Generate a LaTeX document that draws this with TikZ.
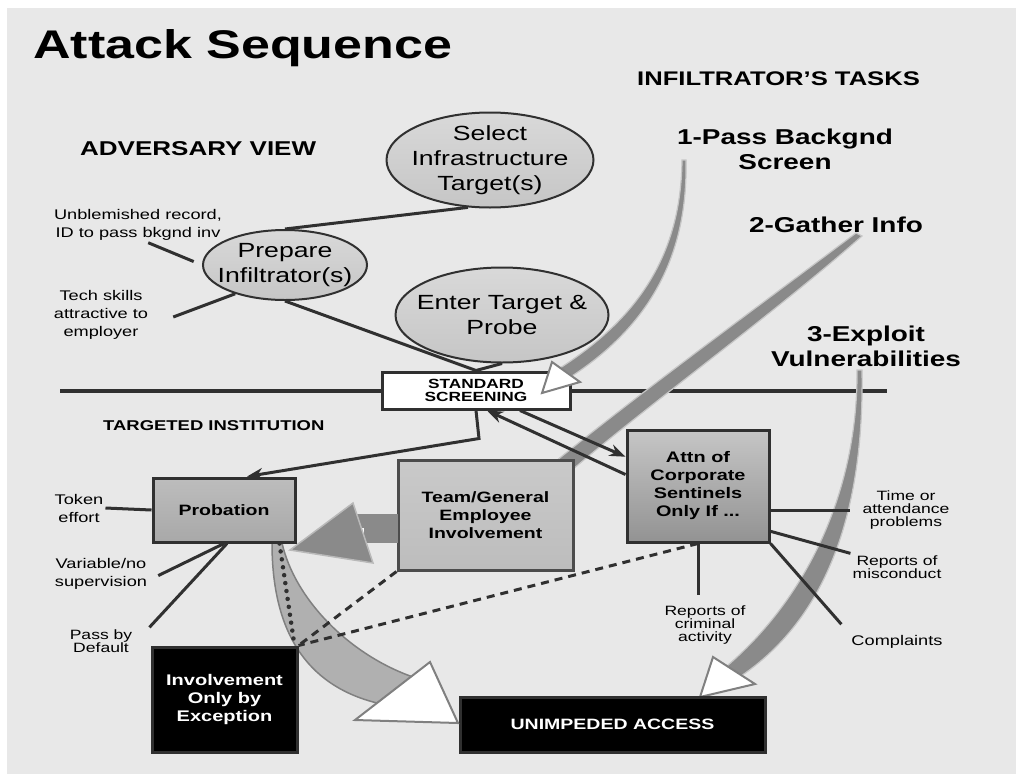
\documentclass[tikz,border=0pt]{standalone}
\usepackage{fontspec}
\setmainfont{Liberation Sans}[FakeStretch=1.3]
\usepackage{tikz}
\usetikzlibrary{positioning,shapes.geometric,arrows.meta}
\definecolor{bgc}{HTML}{E8E8E8}
\definecolor{ink}{HTML}{303030}
\definecolor{bandc}{HTML}{8A8A8A}
\definecolor{edgec}{HTML}{808080}
\tikzset{
	goal/.style={ellipse, draw=ink, line width=2pt, top color=gray!30, bottom color=gray!45, inner sep=0pt},
	goal text/.style={align=center, font=\fontsize{20.5}{25}\selectfont},
	note/.style={align=center, inner sep=2pt, font=\fontsize{14}{18}\selectfont},
	tight note/.style={note, font=\fontsize{13.5}{13}\selectfont},
	task/.style={align=center, inner sep=0pt, font=\bfseries\fontsize{21.5}{25}\selectfont},
	heading/.style={anchor=base west, inner sep=0pt, font=\bfseries\fontsize{20}{24}\selectfont},
	stage/.style={draw=ink, line width=3pt, align=center, inner sep=0pt, font=\bfseries\fontsize{15}{18}\selectfont},
	blackbox/.style={stage, fill=black, text=white},
	link/.style={draw=ink, line width=3pt},
	soft link/.style={link, dash pattern=on 8pt off 6pt},
	dot link/.style={draw=ink, line width=4.5pt, line cap=round, dash pattern=on 0pt off 8pt},
	sharp/.style={-{Stealth[length=16pt,width=12pt]}},
	band/.style={fill=bandc, draw=gray!45, line width=1.2pt},
	arrowhead/.style={fill=white, draw=edgec, line width=2pt, line join=miter},
}
\begin{document}
\begin{tikzpicture}[x=1pt,y=-1pt]
	\useasboundingbox (0,0) rectangle (1016,774);
	\fill[bgc] (7,8) rectangle (1016,774);
	\coordinate (divl) at (60,391);
	\coordinate (divr) at (887,391);
	\draw[ink, line width=4pt] (divl) -- (divr);
	\node[stage, fill=white, minimum width=188pt, minimum height=37pt, font=\bfseries\fontsize{13.3}{13}\selectfont] (screen) at (476,390.5) {STANDARD\\SCREENING};

	\filldraw[band] (682,160) .. controls (681,255) and (638,318) .. (560,368) -- (572,376) .. controls (648,326) and (688,258) .. (686,160) -- cycle;
	\filldraw[arrowhead] (552,362) -- (542,393) -- (580,382) -- cycle;
	\filldraw[band] (856,233) .. controls (760,305) and (630,400) .. (545,470) -- (572,470) .. controls (648,405) and (776,312) .. (862,236) -- cycle;
	\filldraw[band] (857,370) .. controls (858,480) and (815,590) .. (727,666) -- (741,676) .. controls (838,610) and (864,490) .. (862,370) -- cycle;
	\filldraw[arrowhead] (713,657) -- (700,697) -- (755,684) -- cycle;
	\filldraw[fill=gray!62, draw=edgec, line width=1.5pt] (272,543) .. controls (272,630) and (305,685) .. (377,703) -- (413,677) .. controls (350,655) and (295,600) .. (282,543) -- cycle;

	\node[stage, draw=gray!60!black, minimum width=175pt, minimum height=110pt, top color=gray!42, bottom color=gray!52] (team) at (485.5,515) {Team/General\\Employee\\Involvement};
	\fill[bandc] (350,514) rectangle (398,543);
	\fill[white] (352,528) rectangle (364,543);
	\filldraw[fill=bandc, draw=gray!55, line width=1.5pt] (353,503) -- (290,550) -- (373,563) -- cycle;
	\node[stage, minimum width=142pt, minimum height=64pt, top color=gray!52, bottom color=gray!68] (prob) at (224,510) {Probation};
	\node[stage, minimum width=142pt, minimum height=112pt, top color=gray!45, bottom color=gray!85, font=\bfseries\fontsize{15.3}{18}\selectfont] (attn) at (698,486) {Attn of\\Corporate\\Sentinels\\Only If ...};
	\node[blackbox, minimum width=145pt, minimum height=105pt, font=\bfseries\fontsize{15.4}{18}\selectfont] (exc) at (224.5,699.5) {Involvement\\Only by\\Exception};
	\node[blackbox, minimum width=305pt, minimum height=55pt] (unimp) at (612.5,724.5) {UNIMPEDED ACCESS};
	\filldraw[arrowhead] (430,662) -- (458,723) -- (355,720) -- cycle;

	\node[heading, font=\bfseries\fontsize{40}{44}\selectfont] (title) at (33,58) {Attack Sequence};
	\node[heading] (adv) at (80,155) {ADVERSARY VIEW};
	\node[heading, font=\bfseries\fontsize{19.7}{24}\selectfont] (tasks) at (637,85) {INFILTRATOR'S TASKS};
	\node[heading, font=\bfseries\fontsize{14.2}{18}\selectfont] (inst) at (103,430) {TARGETED INSTITUTION};
	\node[task] (pass1) at (785,149) {1-Pass Backgnd\\Screen};
	\node[task, anchor=base] (gather2) at (836,232) {2-Gather Info};
	\node[task] (exploit3) at (866,346) {3-Exploit\\Vulnerabilities};

	\node[goal, minimum width=207pt, minimum height=95pt, label={[goal text]center:{Select\\Infrastructure\\Target(s)}}] (select) at (490,160) {};
	\node[goal, minimum width=164pt, minimum height=70pt, label={[goal text]center:{Prepare\\Infiltrator(s)}}] (prep) at (285,265) {};
	\node[goal, minimum width=213pt, minimum height=95pt, label={[goal text]center:{Enter Target \&\\Probe}}] (enter) at (502,315) {};

	\node[note] (unbl) at (138,225) {Unblemished record,\\ID to pass bkgnd inv};
	\node[note] (tech) at (101,315) {Tech skills\\attractive to\\employer};
	\node[note] (token) at (79,508) {Token\\effort};
	\node[note] (var) at (101,574) {Variable/no\\supervision};
	\node[tight note] (pass) at (101,641) {Pass by\\Default};
	\node[tight note] (time) at (906,510) {Time or\\attendance\\problems};
	\node[tight note] (misc) at (897,567) {Reports of\\misconduct};
	\node[tight note] (crim) at (705,625) {Reports of\\criminal\\activity};
	\node[note] (compl) at (897,642) {Complaints};

	\draw[link] (prep.north) -- (select.245);
	\draw[link] (prep.south) -- (screen.north);
	\draw[link] (enter.south) -- (screen.north);
	\draw[link, shorten >=9pt] (unbl.-60) -- (prep.west);
	\draw[link] (tech.east) ++(23,2) -- (prep.210);
	\draw[link] (token.east) -- (prob.west);
	\draw[link, shorten <=10pt] ([yshift=-6pt]var.east) -- (prob.south);
	\draw[link] ([xshift=15pt]pass.north east) -- ([xshift=3pt]prob.south);
	\draw[link, sharp] (screen.south) -- ++(3,28) -- ([xshift=23pt]prob.north);
	\draw[link, sharp] ([xshift=44pt]screen.south) -- (attn.158);
	\draw[link, sharp] (attn.171) -- ([xshift=11pt]screen.south);
	\draw[link, shorten >=10pt] (attn.east |- time.west) -- (time.west);
	\draw[link] (attn.-32) -- (misc.north west);
	\draw[link, shorten >=12pt] (attn.south east) -- (compl.north west);
	\draw[link, shorten >=9pt] (attn.south) -- (attn.south |- crim.north);
	\draw[soft link] (attn.south) -- (exc.north east);
	\draw[soft link] (team.south west) -- (exc.north east);
	\draw[dot link] ([xshift=-17pt]prob.south east) -- ([xshift=-4pt]exc.north east);
\end{tikzpicture}
\end{document}
